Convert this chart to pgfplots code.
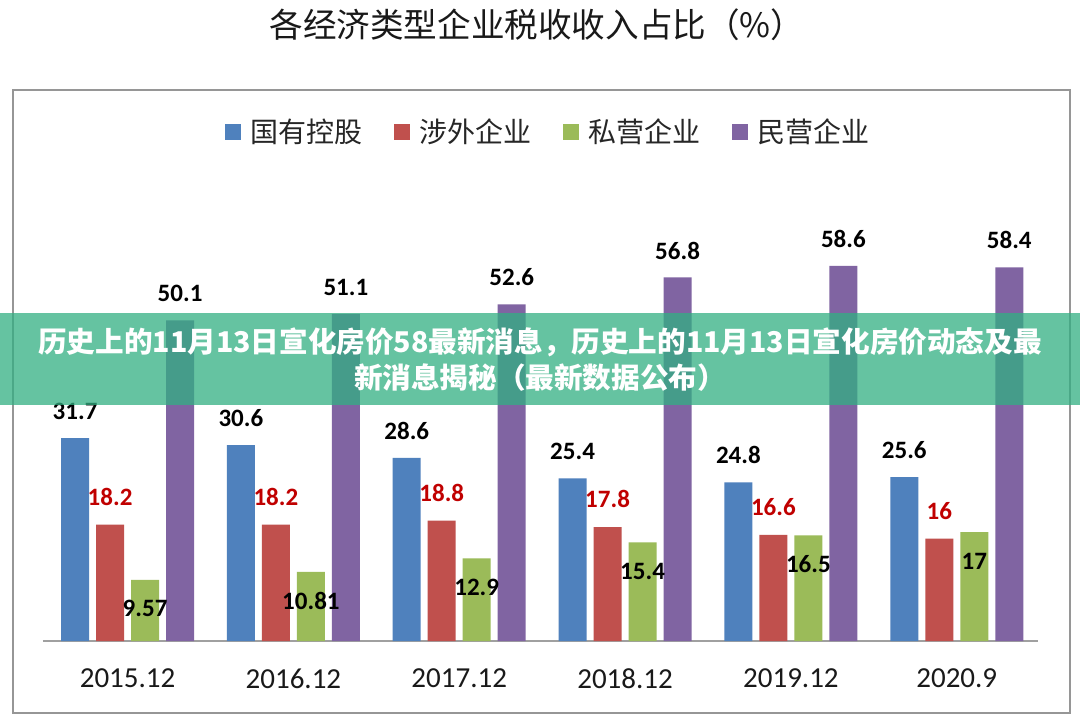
\documentclass[border=0pt]{standalone}
\usepackage{fontspec}
\setmainfont{Carlito}
\newfontfamily\cjk{Noto Sans CJK SC}
\usepackage{pgfplots}
\pgfplotsset{compat=1.18}
\definecolor{cblue}{HTML}{4F81BD}
\definecolor{cred}{HTML}{C0504D}
\definecolor{cgreen}{HTML}{9BBB59}
\definecolor{cpurple}{HTML}{8064A2}
\definecolor{labred}{HTML}{C00000}
\definecolor{bordergray}{RGB}{150,150,150}
\definecolor{axisgray}{RGB}{160,160,160}
\definecolor{bannergreen}{RGB}{50,175,130}
\begin{document}
\begin{tikzpicture}
\path[fill=white] (0,0) rectangle (540pt,359.5pt);
\path[use as bounding box] (0,0) rectangle (540pt,359.5pt);
\node[font=\cjk\fontsize{16.8}{20}\selectfont, text=black!90] at (268.5pt,347pt) {各经济类型企业税收收入占比（\%）};
\draw[line width=1pt, color=bordergray] (6.5pt,3pt) rectangle (535pt,314.5pt);
\begin{axis}[
  at={(21.5pt,39pt)}, anchor=south west,
  scale only axis, width=497.5pt, height=224pt,
  xmin=-0.51, xmax=5.49, ymin=0, ymax=70,
  axis x line*=bottom, axis y line=none,
  x axis line style={draw=axisgray, line width=0.8pt, -},
  xtick={0,1,2,3,4,5},
  xticklabels={2015.12,2016.12,2017.12,2018.12,2019.12,2020.9},
  xtick style={draw=none},
  xticklabel style={anchor=center, yshift=-14.5pt, font=\fontsize{14.5}{16}\selectfont, text=black!90},
  ytick=\empty,
  ybar, bar width=14pt,
  /pgf/number format/assume math mode=true,
  nodes near coords,
  nodes near coords align=center,
  nodes near coords style={font=\bfseries\fontsize{12.5}{14}\selectfont, anchor=center},
  legend style={at={(0.508,1.136)}, anchor=center, draw=none, fill=none,
    legend columns=4, font=\cjk\fontsize{14}{16}\selectfont, text=black!85,
    nodes={inner sep=1pt},
    /tikz/every odd column/.append style={column sep=3.5pt},
    /tikz/every even column/.append style={column sep=15pt}},
  legend image code/.code={\fill[#1] (0pt,-4pt) rectangle (8pt,4pt);},
]
\addplot[fill=cblue, draw=none, bar shift=-26.25pt,
  every node near coord/.append style={yshift=13.5pt, text=black}]
  coordinates {(0,31.7) (1,30.6) (2,28.6) (3,25.4) (4,24.8) (5,25.6)};
\addplot[fill=cred, draw=none, bar shift=-8.75pt,
  every node near coord/.append style={yshift=14pt, text=labred}]
  coordinates {(0,18.2) (1,18.2) (2,18.8) (3,17.8) (4,16.6) (5,16)};
\addplot[fill=cgreen, draw=none, bar shift=8.75pt,
  every node near coord/.append style={yshift=-14.5pt, text=black}]
  coordinates {(0,9.57) (1,10.81) (2,12.9) (3,15.4) (4,16.5) (5,17)};
\addplot[fill=cpurple, draw=none, bar shift=26.25pt,
  every node near coord/.append style={yshift=13.5pt, text=black}]
  coordinates {(0,50.1) (1,51.1) (2,52.6) (3,56.8) (4,58.6) (5,58.4)};
\legend{国有控股,涉外企业,私营企业,民营企业}
\end{axis}
\fill[bannergreen, fill opacity=0.75] (0,157pt) rectangle (540pt,203pt);
\node[text=white, font=\cjk\bfseries\fontsize{14.3}{18}\selectfont, align=center] at (270pt,179.5pt) {历史上的11月13日宣化房价58最新消息，历史上的11月13日宣化房价动态及最\\新消息揭秘（最新数据公布）};
\end{tikzpicture}
\end{document}
